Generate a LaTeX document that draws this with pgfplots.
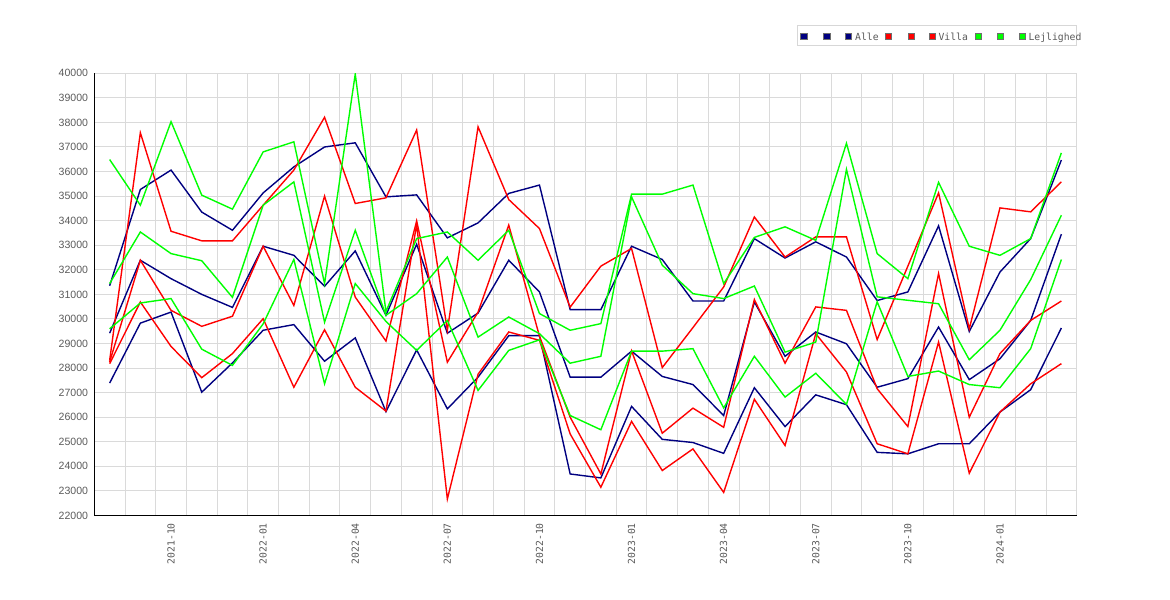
\documentclass[border=0pt]{standalone}
\usepackage{fontspec}
\setmainfont{Liberation Sans}
\newfontfamily\monofont{DejaVu Sans Mono}
\usepackage{pgfplots}
\usepackage{pgfplotstable}
\pgfplotsset{compat=1.18}
\definecolor{navyc}{RGB}{0,0,128}
\definecolor{redc}{RGB}{255,0,0}
\definecolor{greenc}{RGB}{0,255,0}
\definecolor{gridc}{RGB}{218,218,218}
\definecolor{labgray}{RGB}{90,90,90}
\definecolor{legbox}{RGB}{215,215,215}
\definecolor{sqborder}{RGB}{110,110,110}

\pgfplotstableread{
i hi mid lo
0 31350 29420 27390
1 35270 32390 29830
2 36060 31640 30280
3 34350 31000 27020
4 33610 30470 28210
5 35130 32960 29540
6 36190 32590 29770
7 37000 31330 28280
8 37170 32770 29230
9 34970 30150 26230
10 35050 33040 28740
11 33300 29420 26340
12 33910 30240 27630
13 35110 32390 29320
14 35450 31100 29320
15 30380 27630 23690
16 30380 27630 23530
17 32960 28690 26440
18 32420 27660 25100
19 30730 27330 24970
20 30730 26070 24530
21 33270 30690 27200
22 32480 28480 25620
23 33140 29470 26910
24 32520 28990 26510
25 30750 27220 24570
26 31100 27570 24510
27 33790 29670 24920
28 29490 27530 24920
29 31910 28380 26210
30 33270 29940 27120
31 36470 33450 29630
}\alle

\pgfplotstableread{
i hi mid lo
0 28310 28250 28180
1 37580 32390 30690
2 33570 30350 28880
3 33180 29700 27610
4 33180 30110 28590
5 34630 32960 30010
6 36060 30550 27220
7 38210 35000 29560
8 34700 30890 27220
9 34930 29100 26250
10 37690 33990 33850
11 29540 28240 22670
12 37820 30280 27750
13 34860 33820 29470
14 33680 29300 29130
15 30480 26000 25320
16 32150 23690 23150
17 32870 28700 25830
18 28020 25350 23830
19 29650 26370 24710
20 31300 25590 22940
21 34150 30790 26730
22 32520 28200 24850
23 33340 30490 29400
24 33340 30350 27840
25 29160 27160 24920
26 32150 25620 24510
27 35130 31850 29060
28 29600 26000 23720
29 34520 28590 26210
30 34360 29940 27360
31 35580 30730 28180
}\villa

\pgfplotstableread{
i hi mid lo
0 36490 31440 29600
1 34630 33540 30650
2 38030 32660 30830
3 35040 32370 28770
4 34470 30880 28110
5 36800 34630 29800
6 37210 35580 32420
7 31440 29870 27360
8 39970 33610 31440
9 30300 30150 29900
10 33270 31030 28720
11 33540 32520 29940
12 32390 29260 27090
13 33610 30080 28720
14 30220 29400 29150
15 29540 28200 26070
16 29810 28480 25490
17 35080 34970 28690
18 35080 32190 28690
19 35450 31030 28790
20 31440 30830 26380
21 33320 31340 28480
22 33750 28650 26820
23 33200 29060 27790
24 37150 36090 26520
25 32660 30900 30700
26 31640 30760 27660
27 35560 30620 27880
28 32960 28340 27330
29 32590 29540 27200
30 33270 31600 28790
31 36760 34220 32420
}\lejl

\begin{document}
\begin{tikzpicture}[x=1bp,y=1bp]
\useasboundingbox (0,0) rectangle (1170,600);
\begin{axis}[
  at={(94.3bp,84.5bp)}, anchor=south west,
  scale only axis, width=982.4bp, height=442.2bp,
  xmin=-0.5, xmax=31.5, ymin=22000, ymax=40000,
  scaled y ticks=false, scaled x ticks=false,
  axis x line*=bottom, axis y line*=left,
  axis line style={black, line width=1.5bp},
  xtick={2,5,...,29},
  xticklabels={2021-10,2022-01,2022-04,2022-07,2022-10,2023-01,2023-04,2023-07,2023-10,2024-01},
  minor xtick={-0.5,0.5,...,31.5},
  ytick={22000,23000,...,40000},
  yticklabels={22000,23000,24000,25000,26000,27000,28000,29000,30000,31000,32000,33000,34000,35000,36000,37000,38000,39000,40000},
  ymajorgrids, xminorgrids, xmajorgrids=false,
  grid style={draw=gridc, line width=1bp},
  minor grid style={draw=gridc, line width=1bp},
  major tick length=0pt, minor tick length=0pt,
  tick style={draw=none},
  xticklabel style={rotate=90, anchor=east, font=\monofont\fontsize{9.8}{10}\selectfont, text=labgray, inner xsep=7.5bp, inner ysep=0pt},
  yticklabel style={anchor=east, font=\fontsize{10.6}{11}\selectfont, text=labgray, inner xsep=6bp, inner ysep=0pt},
  every axis plot/.append style={line width=1.4bp, line join=miter, mark=none},
]
\addplot[navyc] table[x=i,y=hi]{\alle};
\addplot[navyc] table[x=i,y=mid]{\alle};
\addplot[navyc] table[x=i,y=lo]{\alle};
\addplot[redc] table[x=i,y=hi]{\villa};
\addplot[redc] table[x=i,y=mid]{\villa};
\addplot[redc] table[x=i,y=lo]{\villa};
\addplot[greenc] table[x=i,y=hi]{\lejl};
\addplot[greenc] table[x=i,y=mid]{\lejl};
\addplot[greenc] table[x=i,y=lo]{\lejl};
\end{axis}
% legend
\draw[draw=legbox, fill=white, line width=1bp] (797.3,554) rectangle (1076,574);
\foreach \cx/\col in {803.8/navyc,826.8/navyc,848.5/navyc,888.2/redc,911.2/redc,932.5/redc,978.5/greenc,1000.2/greenc,1022.5/greenc}{
  \filldraw[fill=\col, draw=sqborder, line width=0.8bp] (\cx-3.1,560.6) rectangle (\cx+3.1,566.8);
}
\begin{scope}[every node/.style={anchor=base west, inner sep=0pt, text=labgray, font=\monofont\fontsize{9.8}{10}\selectfont}]
\node at (855,559.6) {Alle};
\node at (938.3,559.6) {Villa};
\node at (1028.3,559.6) {Lejlighed};
\end{scope}
\end{tikzpicture}
\end{document}
